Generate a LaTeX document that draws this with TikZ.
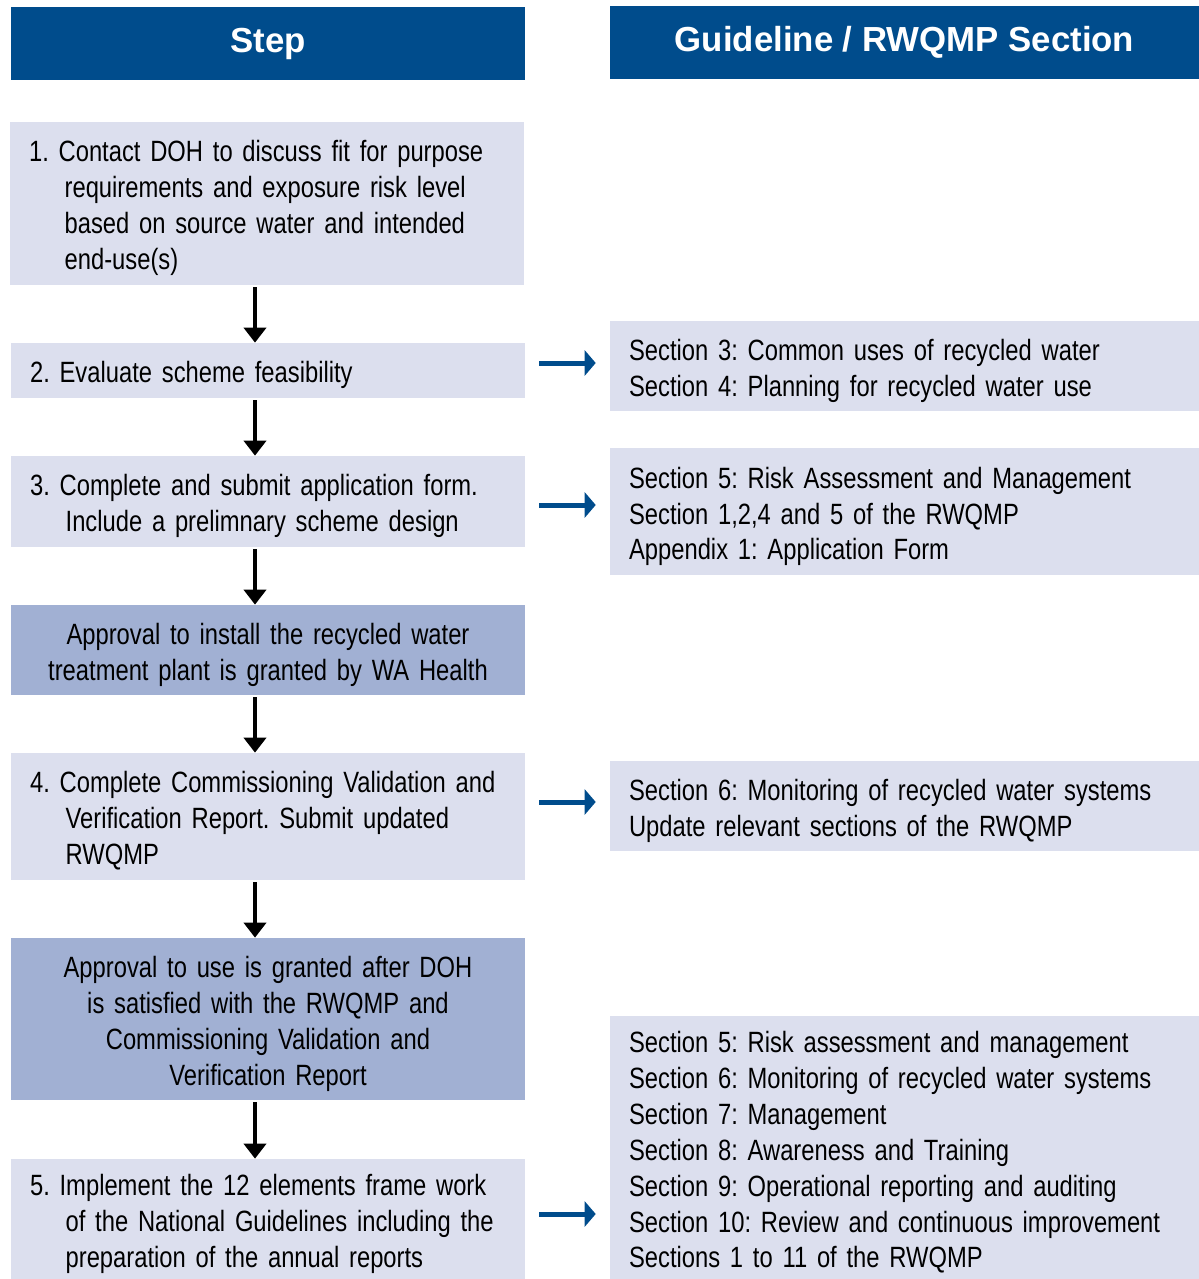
\documentclass[tikz,border=0pt]{standalone}
\usepackage{fontspec}
\setmainfont[FakeStretch=0.81]{Liberation Sans}
\newfontfamily\headfont{Liberation Sans}
\usetikzlibrary{arrows.meta}
\frenchspacing

\definecolor{hdrblue}{RGB}{0,76,140}
\definecolor{boxlight}{RGB}{220,223,238}
\definecolor{boxdark}{RGB}{161,176,211}

\newcommand{\numstep}[2]{\begin{tabular}{@{}l@{\ }l@{}}#1 & #2\end{tabular}}
\newcommand{\nextline}{\\ & \hspace{0.12cm}}

\tikzset{
    header/.style={fill=hdrblue, text=white, inner sep=0pt, minimum height=1.46cm,
        font=\headfont\bfseries\fontsize{19.8}{23}\selectfont},
    stepbox/.style={fill=boxlight, inner xsep=0.38cm, inner ysep=0pt, text width=9.52cm,
        align=left, font=\fontsize{16.7}{20.4}\selectfont,
        execute at end node={\par\vspace*{-0.2cm}}},
    approvebox/.style={stepbox, fill=boxdark, align=center},
    secbox/.style={stepbox, text width=11.02cm},
    flow/.style={-{Triangle[width=0.44cm,length=0.3cm]}, line width=0.08cm, shorten <=0.04cm},
    link/.style={-{Triangle[width=0.5cm,length=0.22cm]}, line width=0.1cm, hdrblue,
        shorten <=0.28cm, shorten >=0.28cm}
}

\begin{document}
\begin{tikzpicture}[x=0.02cm, y=-0.02cm]
    \useasboundingbox (0,0) rectangle (1199,1279);

    % Headers
    \node[header, minimum width=10.28cm] (hstep) at (268,43.5) {Step};
    \node[header, minimum width=11.78cm] (hsec) at (904.5,42.5) {Guideline / RWQMP Section};

    % Steps
    \node[stepbox, minimum height=3.26cm] (b1) at (267,203.5) {\numstep{1.}{Contact DOH to discuss fit for purpose
        \nextline requirements and exposure risk level
        \nextline based on source water and intended
        \nextline end-use(s)}};
    \node[stepbox, minimum height=1.1cm] (b2) at (268,370.5) {\numstep{2.}{Evaluate scheme feasibility}};
    \node[stepbox, minimum height=1.82cm] (b3) at (268,501.5) {\numstep{3.}{Complete and submit application form.
        \nextline Include a prelimnary scheme design}};
    \node[approvebox, minimum height=1.8cm] (bA) at (268,650) {Approval to install the recycled water\\
        treatment plant is granted by WA Health};
    \node[stepbox, minimum height=2.54cm] (b4) at (268,816.5) {\numstep{4.}{Complete Commissioning Validation and
        \nextline Verification Report. Submit updated
        \nextline RWQMP}};
    \node[approvebox, minimum height=3.24cm] (bB) at (268,1019) {Approval to use is granted after DOH\\
        is satisfied with the RWQMP and\\
        Commissioning Validation and\\
        Verification Report};
    \node[stepbox, minimum height=2.4cm] (b5) at (268,1219) {\numstep{5.}{Implement the 12 elements frame work
        \nextline of the National Guidelines including the
        \nextline preparation of the annual reports}};

    % Guideline sections
    \node[secbox, minimum height=1.8cm] (r1) at (904.5,366) {Section 3: Common uses of recycled water\\
        Section 4: Planning for recycled water use};
    \node[secbox, minimum height=2.54cm] (r2) at (904.5,511.5) {Section 5: Risk Assessment and Management\\
        Section 1,2,4 and 5 of the RWQMP\\
        Appendix 1: Application Form};
    \node[secbox, minimum height=1.8cm] (r3) at (904.5,806) {Section 6: Monitoring of recycled water systems\\
        Update relevant sections of the RWQMP};
    \node[secbox, minimum height=5.26cm] (r4) at (904.5,1147.5) {Section 5: Risk assessment and management\\
        Section 6: Monitoring of recycled water systems\\
        Section 7: Management\\
        Section 8: Awareness and Training\\
        Section 9: Operational reporting and auditing\\
        Section 10: Review and continuous improvement\\
        Sections 1 to 11 of the RWQMP};

    % Arrows
    \coordinate (col) at (255,0);
    \foreach \a/\b in {b1/b2, b2/b3, b3/bA, bA/b4, b4/bB, bB/b5}
        \draw[flow] (\a.south -| col) -- (\b.north -| col);
    \foreach \a/\b/\s in {b2/r1/0.15, b3/r2/-0.07, b4/r3/0.29, b5/r4/0.1}
        \draw[link] ([yshift=\s cm]\a.east) coordinate (s) -- (s -| \b.west);
\end{tikzpicture}
\end{document}
